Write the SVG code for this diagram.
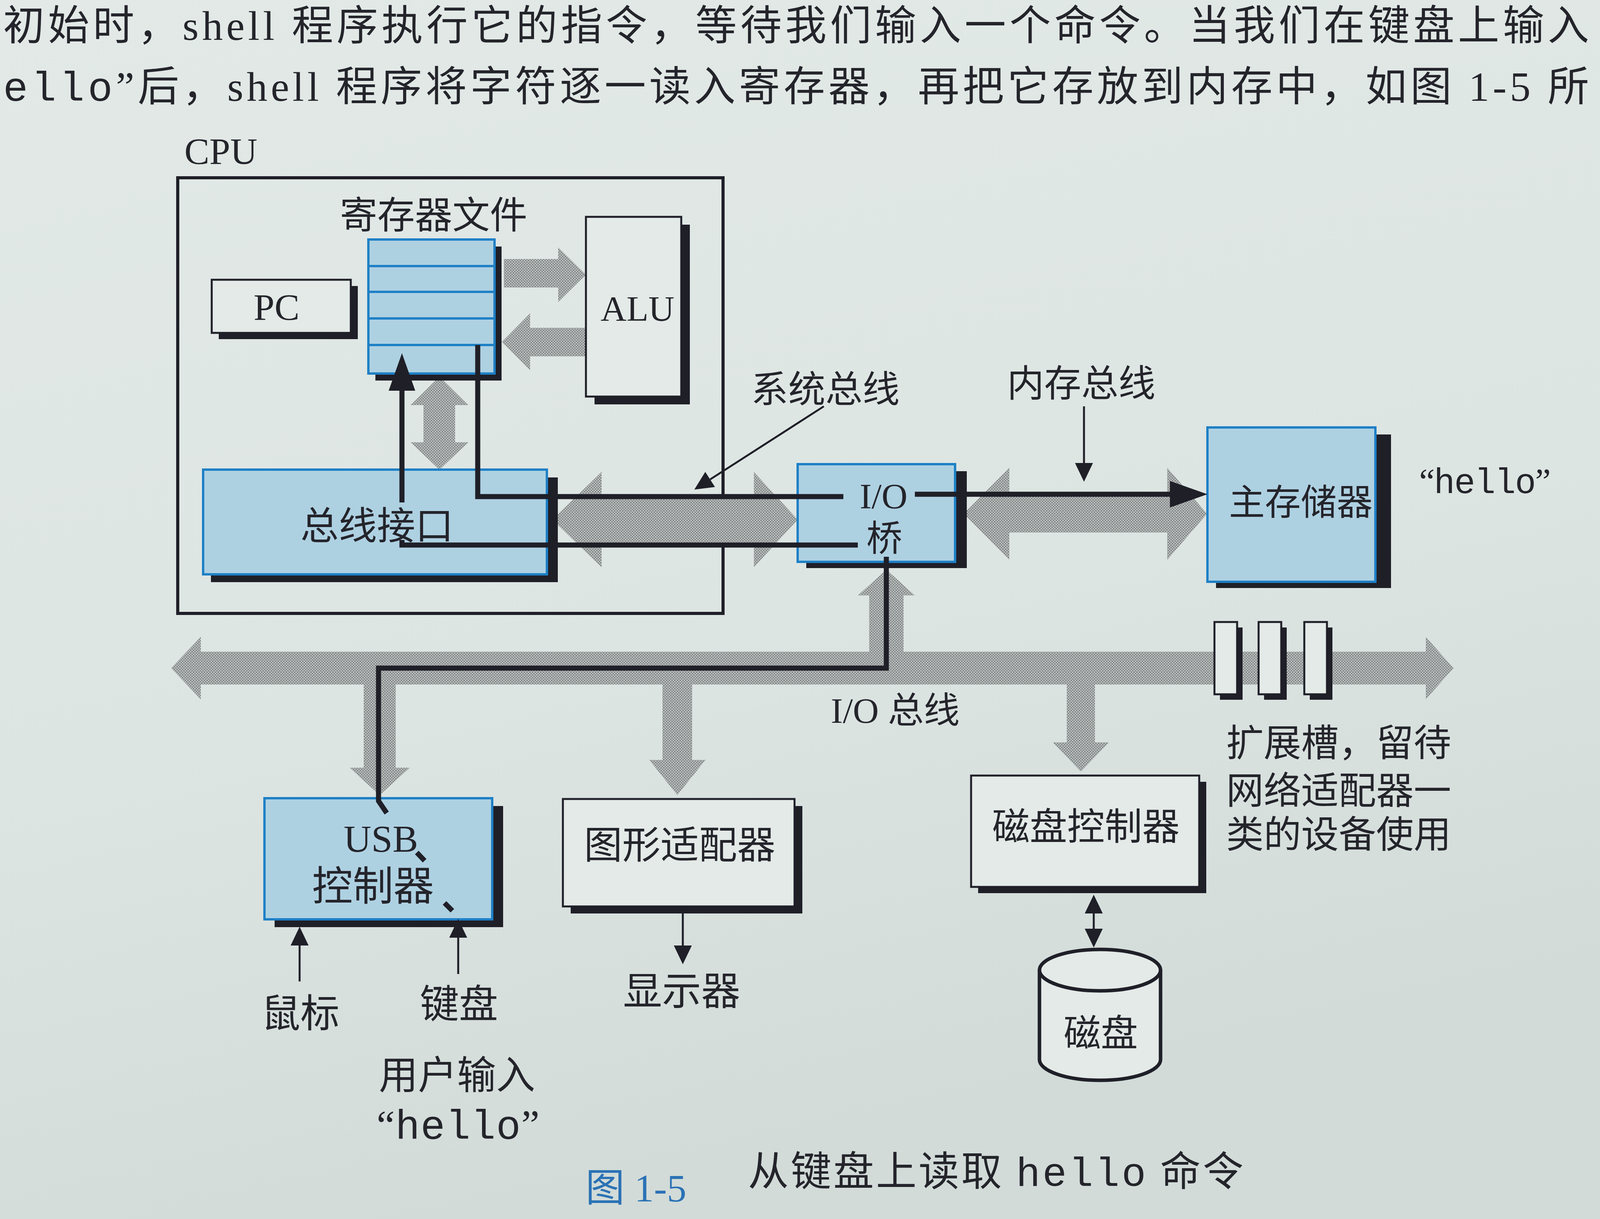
<svg xmlns="http://www.w3.org/2000/svg" width="4160" height="3120" viewBox="0 0 4160 3120">
<style>
.t{font-family:"Liberation Serif","Noto Sans CJK SC",serif;fill:#24242b}
.m{font-family:"Liberation Mono",monospace}
.c{text-anchor:middle}
.sh{fill:#1f1f28}
.wb{fill:#e3eae7;stroke:#1f1f28;stroke-width:5}
.bb{fill:#aed1e2;stroke:#1e80c6;stroke-width:6}
.ln{fill:none;stroke:#1f1f28;stroke-width:13}
.thin{fill:none;stroke:#1f1f28;stroke-width:5}
.gray{fill:url(#dots)}
</style>
<defs>
<linearGradient id="bg" x1="0" y1="0" x2="0.3" y2="1">
<stop offset="0" stop-color="#e2e9e6"/>
<stop offset="0.6" stop-color="#dde5e2"/>
<stop offset="1" stop-color="#d2dbd8"/>
</linearGradient>
<pattern id="dots" width="7" height="7" patternUnits="userSpaceOnUse">
<rect width="7" height="7" fill="#bcc1c0"/>
<circle cx="2" cy="2" r="1.8" fill="#727777"/>
<circle cx="5.5" cy="5.5" r="1.8" fill="#727777"/>
</pattern>
<marker id="big" viewBox="0 0 96 68" refX="0" refY="34" markerWidth="96" markerHeight="68" markerUnits="userSpaceOnUse" orient="auto">
<path d="M0,0 L96,34 L0,68 z" fill="#1f1f28"/>
</marker>
<marker id="sm" viewBox="0 0 48 46" refX="0" refY="23" markerWidth="48" markerHeight="46" markerUnits="userSpaceOnUse" orient="auto-start-reverse">
<path d="M0,0 L48,23 L0,46 z" fill="#1f1f28"/>
</marker>
</defs>
<rect width="4160" height="3120" fill="url(#bg)"/>

<g id="page-text">
<text class="t" x="8" y="102" font-size="106" textLength="4060" lengthAdjust="spacing">初始时，shell 程序执行它的指令，等待我们输入一个命令。当我们在键盘上输入</text>
<text class="t" x="8" y="258" font-size="106" textLength="4060" lengthAdjust="spacing"><tspan class="m">ello</tspan>”后，shell 程序将字符逐一读入寄存器，再把它存放到内存中，如图 1-5 所</text>
</g>

<g id="cpu">
<rect x="455" y="455" width="1396" height="1115" fill="none" stroke="#1f1f28" stroke-width="8"/>
<text class="t" x="472" y="420" font-size="96">CPU</text>
</g>

<g id="buses">
<polygon class="gray" points="1414,1330 1540,1208 1540,1268 1930,1268 1930,1208 2042,1330 1930,1452 1930,1392 1540,1392 1540,1452"/>
<polygon class="gray" points="2467,1315 2584,1197 2584,1267 2988,1267 2988,1197 3090,1315 2988,1433 2988,1363 2584,1363 2584,1433"/>
<polygon class="gray" points="1290,663 1429,663 1429,633 1500,703 1429,773 1429,736 1290,736"/>
<polygon class="gray" points="1510,839 1357,839 1357,802 1285,875 1357,948 1357,912 1510,912"/>
<polygon class="gray" points="1125,964 1199,1037 1165,1037 1165,1132 1199,1132 1125,1202 1051,1132 1084,1132 1084,1037 1051,1037"/>
<polygon class="gray" points="438,1710 514,1630 514,1668 3650,1668 3650,1630 3721,1710 3650,1790 3650,1752 2803,1752 2803,1900 2839,1900 2767,1975 2695,1900 2731,1900 2731,1752 1772,1752 1772,1945 1806,1945 1734,2035 1662,1945 1696,1945 1696,1752 1013,1752 1013,1965 1049,1965 972,2035 895,1965 931,1965 931,1752 514,1752 514,1790"/>
<polygon class="gray" points="2225,1668 2225,1524 2196,1524 2269,1458 2342,1524 2313,1524 2313,1668"/>
</g>

<g id="pc">
<rect class="sh" x="560" y="732" width="356" height="136"/>
<rect class="wb" x="542" y="716" width="356" height="136"/>
<text class="t c" x="708" y="819" font-size="96">PC</text>
</g>

<g id="regfile">
<rect class="sh" x="961" y="631" width="323" height="343"/>
<rect class="bb" x="943" y="613" width="323" height="343"/>
<path d="M943,681 H1266 M943,747 H1266 M943,815 H1266 M943,883 H1266" stroke="#1e80c6" stroke-width="6"/>
<text class="t c" x="1110" y="584" font-size="96">寄存器文件</text>
</g>

<g id="alu">
<rect class="sh" x="1522" y="575" width="244" height="460"/>
<rect class="wb" x="1500" y="555" width="244" height="460"/>
<text class="t c" x="1632" y="821" font-size="92">ALU</text>
</g>

<g id="bus-interface">
<rect class="sh" x="540" y="1222" width="888" height="268"/>
<rect class="bb" x="520" y="1202" width="880" height="268"/>
<text class="t c" x="965" y="1380" font-size="98">总线接口</text>
</g>

<g id="io-bridge">
<rect class="sh" x="2064" y="1206" width="411" height="248"/>
<rect class="bb" x="2042" y="1188" width="403" height="250"/>
<text class="t c" x="2262" y="1301" font-size="92">I/O</text>
<text class="t c" x="2264" y="1410" font-size="92">桥</text>
</g>

<g id="main-memory">
<rect class="sh" x="3113" y="1112" width="448" height="393"/>
<rect class="bb" x="3091" y="1094" width="430" height="395"/>
<text class="t c" x="3330" y="1318" font-size="92">主存储器</text>
<text class="t" x="3633" y="1262" font-size="90" textLength="337" lengthAdjust="spacing">“<tspan class="m">hello</tspan>”</text>
</g>

<g id="slots">
<rect class="sh" x="3123" y="1606" width="58" height="185"/>
<rect class="wb" x="3109" y="1592" width="58" height="185"/>
<rect class="sh" x="3236" y="1606" width="58" height="185"/>
<rect class="wb" x="3222" y="1592" width="58" height="185"/>
<rect class="sh" x="3353" y="1606" width="58" height="185"/>
<rect class="wb" x="3339" y="1592" width="58" height="185"/>
<text class="t" x="3139" y="1935" font-size="96">扩展槽，留待</text>
<text class="t" x="3139" y="2057" font-size="96">网络适配器一</text>
<text class="t" x="3139" y="2169" font-size="96">类的设备使用</text>
</g>

<g id="usb">
<rect class="sh" x="703" y="2063" width="585" height="310"/>
<rect class="bb" x="677" y="2043" width="583" height="310"/>
<text class="t c" x="975" y="2180" font-size="98">USB</text>
<text class="t c" x="955" y="2305" font-size="104">控制器</text>
</g>

<g id="graphics">
<rect class="sh" x="1461" y="2063" width="593" height="275"/>
<rect class="wb" x="1441" y="2045" width="593" height="275"/>
<text class="t c" x="1740" y="2197" font-size="98">图形适配器</text>
</g>

<g id="disk-controller">
<rect class="sh" x="2504" y="2001" width="584" height="285"/>
<rect class="wb" x="2486" y="1985" width="584" height="285"/>
<text class="t c" x="2780" y="2149" font-size="96">磁盘控制器</text>
</g>

<g id="disk">
<path d="M2661,2483 V2712 A155,53 0 0 0 2971,2712 V2483" fill="#e3eae7" stroke="#1f1f28" stroke-width="9"/>
<ellipse cx="2816" cy="2483" rx="155" ry="53" fill="#e3eae7" stroke="#1f1f28" stroke-width="9"/>
<text class="t c" x="2818" y="2678" font-size="95">磁盘</text>
</g>

<g id="labels">
<text class="t c" x="2113" y="1030" font-size="95">系统总线</text>
<text class="t c" x="2768" y="1015" font-size="95">内存总线</text>
<text class="t" x="2127" y="1850" font-size="92">I/O 总线</text>
<text class="t c" x="1745" y="2572" font-size="100">显示器</text>
<text class="t c" x="769" y="2629" font-size="100">鼠标</text>
<text class="t c" x="1175" y="2605" font-size="100">键盘</text>
<text class="t c" x="1170" y="2787" font-size="100">用户输入</text>
<text class="t" x="964" y="2915" font-size="105" textLength="417" lengthAdjust="spacing">“<tspan class="m">hello</tspan>”</text>
</g>

<g id="connectors">
<path class="ln" d="M1029,1286 V1000" marker-end="url(#big)"/>
<path class="ln" d="M2196,1395 H1029 V1382"/>
<path class="ln" d="M1223,883 V1271 H2159"/>
<path class="ln" d="M2342,1265 H2995" marker-end="url(#big)"/>
<path class="ln" d="M2269,1425 V1710 H969 V2050 L990,2081"/>
<path class="ln" d="M1067,2182 L1087,2203 M1138,2311 L1158,2331"/>
<path class="thin" d="M767,2512 V2420" marker-end="url(#sm)"/>
<path class="thin" d="M1173,2493 V2400" marker-end="url(#sm)"/>
<path class="thin" d="M1748,2325 V2420" marker-end="url(#sm)"/>
<path class="thin" d="M2800,2338 V2377" marker-start="url(#sm)" marker-end="url(#sm)"/>
<path class="thin" d="M2109,1040 L1818,1227" marker-end="url(#sm)"/>
<path class="thin" d="M2775,1040 V1185" marker-end="url(#sm)"/>
</g>

<g id="caption">
<text class="t" x="1499" y="3075" font-size="100" style="fill:#2a72b5">图 1-5</text>
<text class="t" x="1915" y="3035" font-size="104" textLength="1268" lengthAdjust="spacing">从键盘上读取 <tspan class="m">hello</tspan> 命令</text>
</g>
</svg>
